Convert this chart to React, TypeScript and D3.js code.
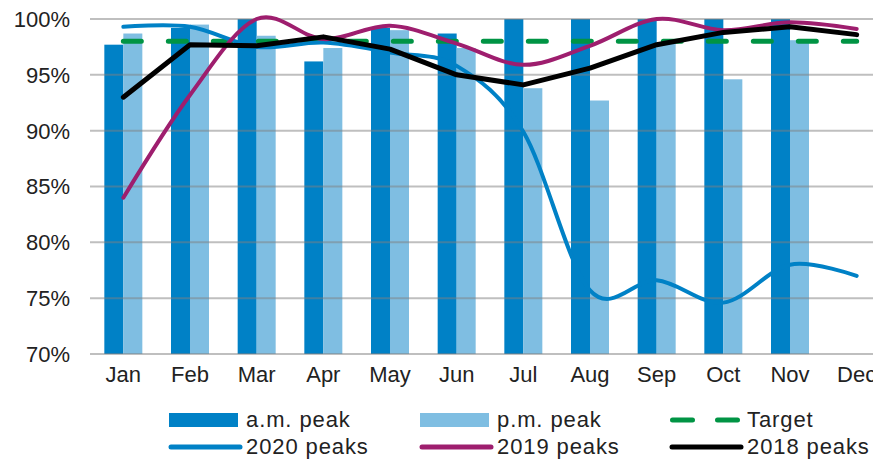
import * as d3 from 'd3';

const months = ['Jan', 'Feb', 'Mar', 'Apr', 'May', 'Jun', 'Jul', 'Aug', 'Sep', 'Oct', 'Nov', 'Dec'];
const amPeak: Array<number | null> = [97.7, 99.2, 100, 96.2, 99.2, 98.7, 100, 100, 100, 100, 100, null];
const pmPeak: Array<number | null> = [98.7, 99.5, 98.5, 97.4, 99.0, 97.4, 93.8, 92.7, 97.8, 94.6, 98.1, null];
const peaks2020 = [99.3, 99.3, 97.5, 97.9, 97.0, 95.8, 89.9, 75.7, 76.6, 74.6, 78.0, 77.0];
const peaks2019 = [84.0, 93.2, 100.0, 98.2, 99.4, 97.8, 95.9, 97.6, 100.0, 99.0, 99.7, 99.1];
const peaks2018 = [93.0, 97.7, 97.6, 98.4, 97.3, 95.0, 94.1, 95.6, 97.7, 98.8, 99.3, 98.6];
const target = 98;
const yTicks = [70, 75, 80, 85, 90, 95, 100];

const W = 873;
const H = 459;
const FONT = '"Liberation Sans", Arial, sans-serif';
const AM = '#0081c6';
const PM = '#7fbee2';
const PURPLE = '#9e1e6e';
const GREEN = '#009444';

export default function App() {
  // plot runs past the right edge, so Dec gets clipped like the original
  const x = d3.scaleBand<string>().domain(months).range([90, 890]);
  const bw = x.bandwidth();
  const x1 = d3.scaleBand<string>().domain(['am', 'pm']).range([0, bw * 0.57]);
  const y = d3.scaleLinear().domain([70, 100]).range([354, 19]);
  const cx = (i: number) => (x(months[i]) ?? 0) + bw / 2;
  const groupLeft = (i: number) => cx(i) - (bw * 0.57) / 2;

  const smooth = d3
    .line<number>()
    .x((_, i) => cx(i))
    .y((v) => y(v))
    .curve(d3.curveCardinal.tension(0));
  const straight = d3
    .line<number>()
    .x((_, i) => cx(i))
    .y((v) => y(v));

  const legendRows = [
    { kind: 'rect', color: AM, label: 'a.m. peak', x: 169, y: 420 },
    { kind: 'rect', color: PM, label: 'p.m. peak', x: 420, y: 420 },
    { kind: 'dash', color: GREEN, label: 'Target', x: 670, y: 420 },
    { kind: 'line', color: AM, label: '2020 peaks', x: 169, y: 447 },
    { kind: 'line', color: PURPLE, label: '2019 peaks', x: 420, y: 447 },
    { kind: 'line', color: '#000', label: '2018 peaks', x: 670, y: 447 },
  ];

  return (
    <svg
      width={W}
      height={H}
      viewBox={`0 0 ${W} ${H}`}
      style={{ position: 'absolute', left: 0, top: 0, background: '#fff' }}
      fontFamily={FONT}
    >
      {months.map((m, i) => (
        <g key={m}>
          {amPeak[i] !== null && (
            <rect
              x={groupLeft(i) + (x1('am') ?? 0)}
              y={y(amPeak[i] as number)}
              width={x1.bandwidth()}
              height={y(70) - y(amPeak[i] as number)}
              fill={AM}
            />
          )}
          {pmPeak[i] !== null && (
            <rect
              x={groupLeft(i) + (x1('pm') ?? 0)}
              y={y(pmPeak[i] as number)}
              width={x1.bandwidth()}
              height={y(70) - y(pmPeak[i] as number)}
              fill={PM}
            />
          )}
        </g>
      ))}

      {yTicks.map((t) => (
        <g key={t}>
          <line x1={90} x2={W} y1={y(t)} y2={y(t)} stroke="#808080" strokeOpacity={0.5} strokeWidth={2} />
          <text x={70} y={y(t)} dy="0.36em" textAnchor="end" fontSize={22} fill="#222">
            {t}%
          </text>
        </g>
      ))}

      {months.map((m, i) => (
        <text key={m} x={cx(i)} y={382} textAnchor="middle" fontSize={22} fill="#222">
          {m}
        </text>
      ))}

      <line
        x1={cx(0)}
        x2={cx(11)}
        y1={y(target)}
        y2={y(target)}
        stroke={GREEN}
        strokeWidth={5}
        strokeDasharray="18,27"
        strokeLinecap="round"
      />
      <path d={smooth(peaks2020) ?? ''} fill="none" stroke={AM} strokeWidth={4} strokeLinecap="round" />
      <path d={smooth(peaks2019) ?? ''} fill="none" stroke={PURPLE} strokeWidth={4} strokeLinecap="round" />
      <path
        d={straight(peaks2018) ?? ''}
        fill="none"
        stroke="#000"
        strokeWidth={5}
        strokeLinecap="round"
        strokeLinejoin="round"
      />

      {legendRows.map((r) => (
        <g key={r.label}>
          {r.kind === 'rect' && <rect x={r.x} y={r.y - 7} width={69} height={14} fill={r.color} />}
          {r.kind === 'line' && (
            <line x1={r.x + 2} x2={r.x + 71} y1={r.y} y2={r.y} stroke={r.color} strokeWidth={5} strokeLinecap="round" />
          )}
          {r.kind === 'dash' && (
            <line
              x1={r.x + 2.5}
              x2={r.x + 70}
              y1={r.y}
              y2={r.y}
              stroke={r.color}
              strokeWidth={5}
              strokeDasharray="20,25"
              strokeLinecap="round"
            />
          )}
          <text x={r.x + 77} y={r.y + 7} fontSize={22} letterSpacing={0.9} fill="#222">
            {r.label}
          </text>
        </g>
      ))}
    </svg>
  );
}
